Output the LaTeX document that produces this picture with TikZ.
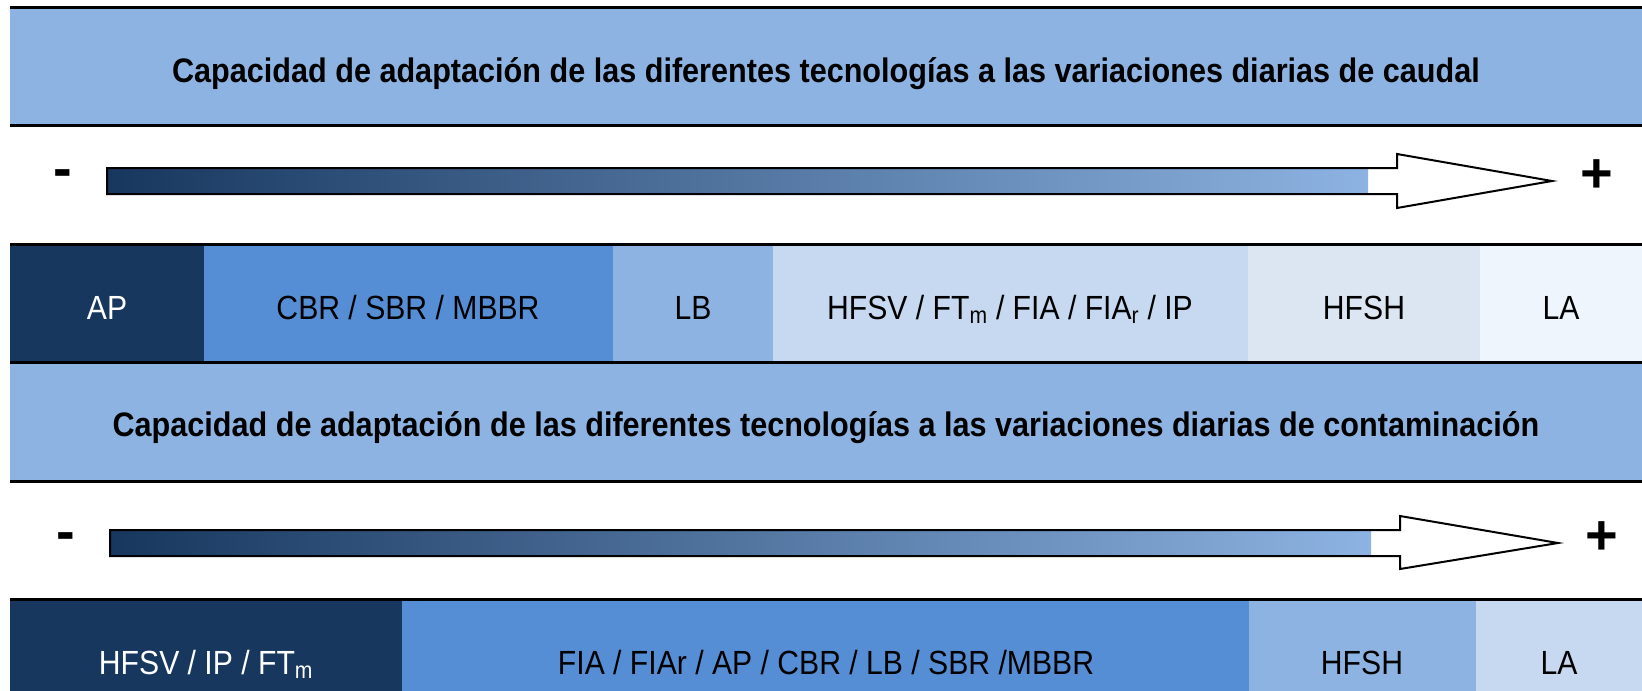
\documentclass[tikz,border=0pt]{standalone}
\usepackage{fontspec}
\newfontfamily\arialn[FakeStretch=0.9]{Liberation Sans}
\newfontfamily\signfont{Liberation Sans}
\definecolor{navy}{HTML}{17375E}
\definecolor{midblue}{HTML}{558ED5}
\definecolor{bandblue}{HTML}{8DB3E2}
\definecolor{paleblue}{HTML}{C6D9F1}
\definecolor{greyblue}{HTML}{DCE6F2}
\definecolor{iceblue}{HTML}{EFF5FC}
\begin{document}
\begin{tikzpicture}[x=1pt,y=-1pt,
  rule/.style={line width=3pt,black},
  title/.style={anchor=base,inner sep=0pt,font=\arialn\bfseries\fontsize{34}{40}\selectfont},
  celltext/.style={anchor=base,inner sep=0pt,font=\arialn\fontsize{33.5}{40}\selectfont},
  sign/.style={anchor=center,inner sep=0pt,font=\signfont\bfseries\fontsize{56}{64}\selectfont},
  arrowoutline/.style={draw=black,line width=2pt,line join=miter}]
\useasboundingbox[fill=white] (0,0) rectangle (1642,691);
% bands
\fill[bandblue] (10,7) rectangle (1642,125);
\fill[bandblue] (10,362) rectangle (1642,481);
% row 1 cells
\fill[navy] (10,244) rectangle (204,362);
\fill[midblue] (204,244) rectangle (613,362);
\fill[bandblue] (613,244) rectangle (773,362);
\fill[paleblue] (773,244) rectangle (1248,362);
\fill[greyblue] (1248,244) rectangle (1480,362);
\fill[iceblue] (1480,244) rectangle (1642,362);
% row 2 cells
\fill[navy] (10,599) rectangle (402,691);
\fill[midblue] (402,599) rectangle (1249,691);
\fill[bandblue] (1249,599) rectangle (1476,691);
\fill[paleblue] (1476,599) rectangle (1642,691);
% rules
\foreach \yy in {7,125,244,362,481,599} \draw[rule] (10,\yy) -- (1642,\yy);
% arrow 1
\fill[white] (107,168) -- (1397,168) -- (1397,154) -- (1552,181) -- (1397,208) -- (1397,194) -- (107,194) -- cycle;
\shade[left color=navy,right color=bandblue] (107,168) rectangle (1368,194);
\draw[arrowoutline] (107,168) -- (1397,168) -- (1397,154) -- (1552,181) -- (1397,208) -- (1397,194) -- (107,194) -- cycle;
% arrow 2
\fill[white] (110,530) -- (1400,530) -- (1400,516) -- (1558,543) -- (1400,569) -- (1400,556) -- (110,556) -- cycle;
\shade[left color=navy,right color=bandblue] (110,530) rectangle (1371,556);
\draw[arrowoutline] (110,530) -- (1400,530) -- (1400,516) -- (1558,543) -- (1400,569) -- (1400,556) -- (110,556) -- cycle;
% signs
\node[sign] (m1) at (63,179) {-};
\node[sign] (p1) at (1597,176) {+};
\node[sign] (m2) at (66,542) {-};
\node[sign] (p2) at (1602,538) {+};
% titles
\node[title] (t1) at (826,82) {Capacidad de adaptación de las diferentes tecnologías a las variaciones diarias de caudal};
\node[title] (t2) at (826,436) {Capacidad de adaptación de las diferentes tecnologías a las variaciones diarias de contaminación};
% row 1 texts
\node[celltext,text=white] (ap1) at (107,319) {AP};
\node[celltext] (cbr1) at (408,319) {CBR / SBR / MBBR};
\node[celltext] (lb1) at (693,319) {LB};
\node[celltext] (hfsv1) at (1010,319) {HFSV / FT\textsubscript{m} / FIA / FIA\textsubscript{r} / IP};
\node[celltext] (hfsh1) at (1364,319) {HFSH};
\node[celltext] (la1) at (1561,319) {LA};
% row 2 texts
\node[celltext,text=white] (hfsv2) at (206,674) {HFSV / IP / FT\textsubscript{m}};
\node[celltext] (fia2) at (826,674) {FIA / FIAr / AP / CBR / LB / SBR /MBBR};
\node[celltext] (hfsh2) at (1362,674) {HFSH};
\node[celltext] (la2) at (1559,674) {LA};
\end{tikzpicture}
\end{document}
